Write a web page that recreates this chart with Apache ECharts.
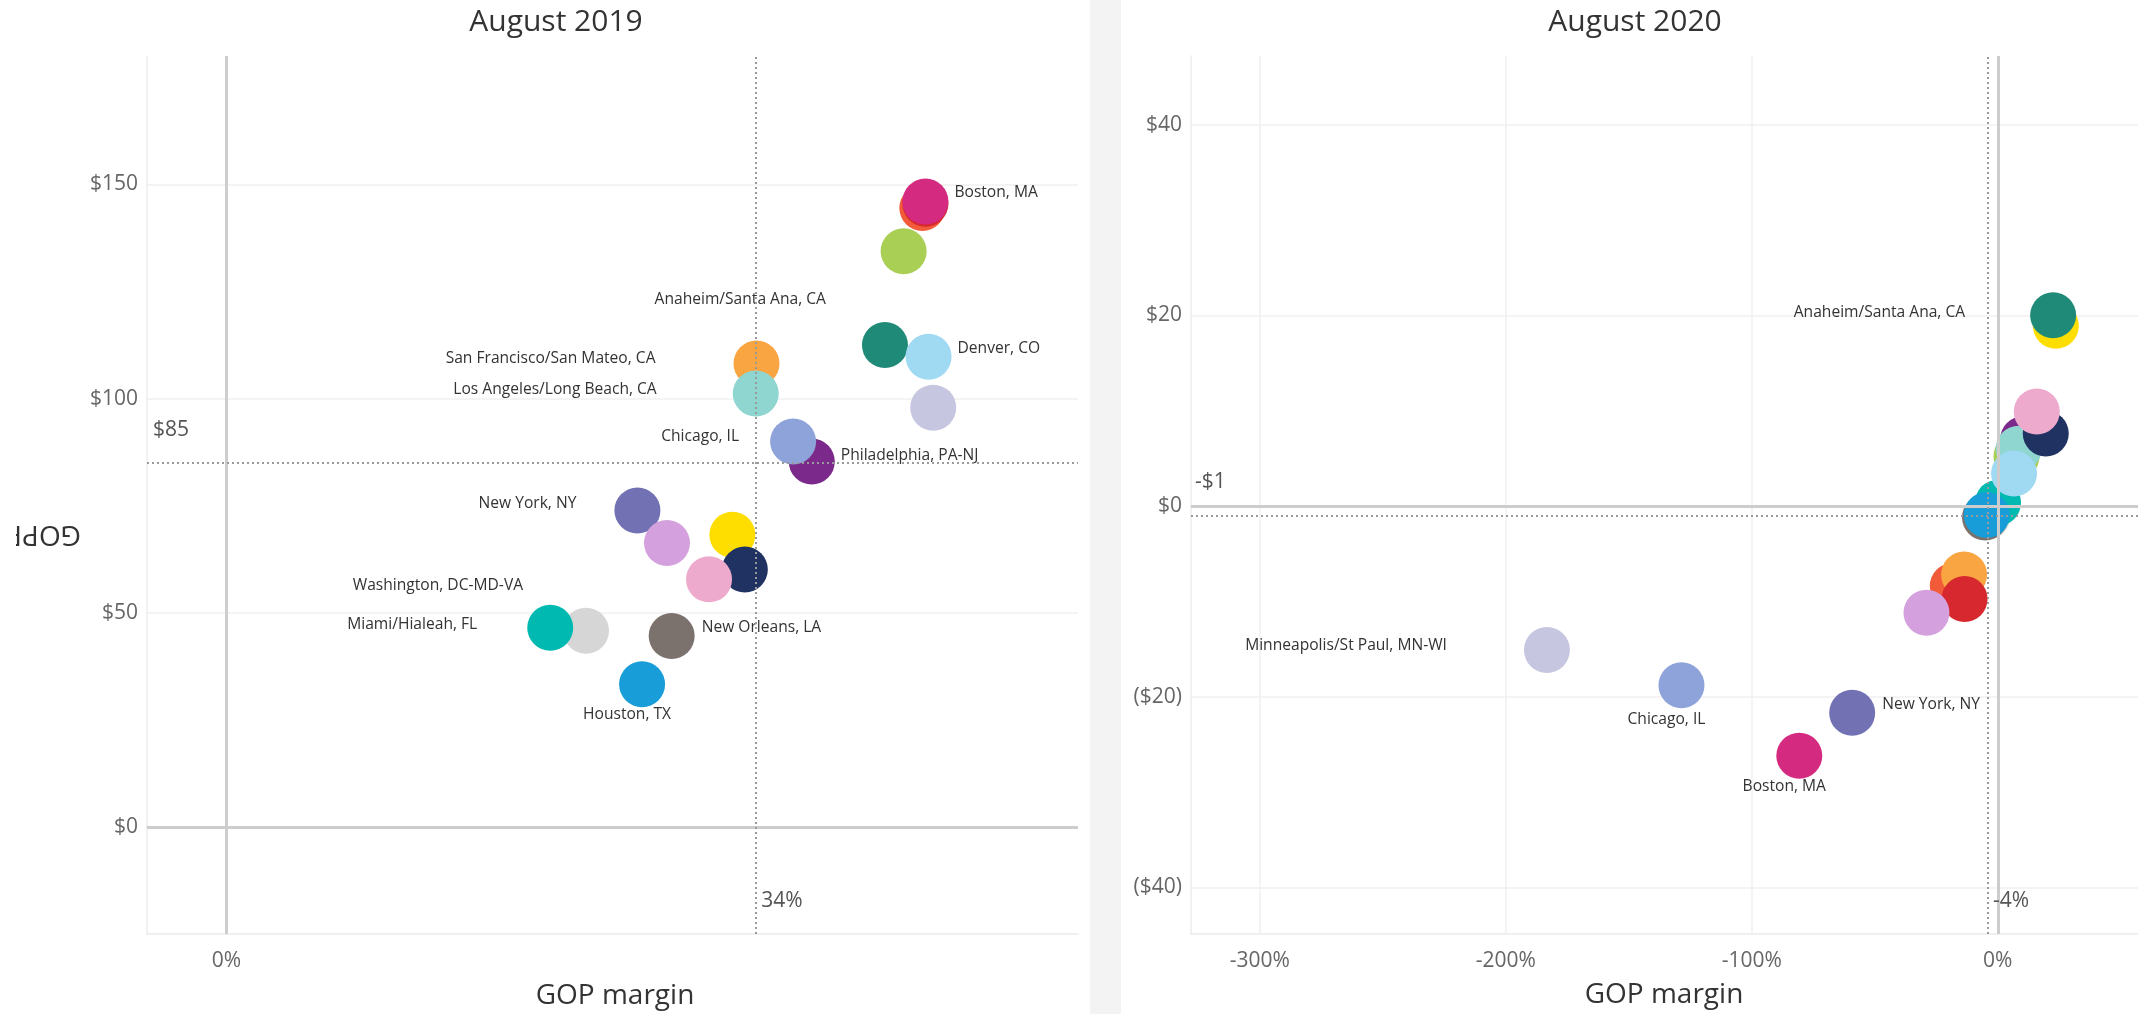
<!DOCTYPE html>
<html><head><meta charset="utf-8">
<script src="https://cdn.jsdelivr.net/npm/echarts@6/dist/echarts.min.js"></script>
<style>html,body{margin:0;padding:0;background:#fff}#c{width:2138px;height:1014px}</style>
</head><body><div id="c"></div><script>
// ---------------- DATA ----------------
const markets = ['', 'Anaheim/Santa Ana, CA', '', 'San Francisco/San Mateo, CA', '', 'Boston, MA',
  'New York, NY', '', 'Philadelphia, PA-NJ', 'Chicago, IL', '', 'Los Angeles/Long Beach, CA',
  '', '', 'Washington, DC-MD-VA', 'Miami/Hialeah, FL', 'Denver, CO', 'New Orleans, LA',
  'Houston, TX', 'Minneapolis/St Paul, MN-WI'];
const colors = ['#fedd00', '#1e8a77', '#f15b3a', '#f9a541', '#d7282f', '#d42a80',
  '#7171b4', '#d4a0de', '#7b2a8b', '#8da3da', '#a9cf54', '#8fd5d0',
  '#1f3262', '#eeaacc', '#d6d6d6', '#00b9b1', '#a0d9f2', '#7b716d',
  '#189dd8', '#c6c6e1'];
// August 2019
const margin2019 = [32.5, 42.3, 44.7, 34.05, 44.9, 44.9, 26.4, 28.3, 37.6, 36.4, 43.5, 34.0,
  33.3, 31.0, 23.1, 20.8, 45.1, 28.6, 26.7, 45.4];
const gop2019 = [68.2, 112.5, 144.5, 108.2, 145.5, 146.0, 73.9, 66.3, 85.3, 90.0, 134.4, 101.2,
  60.1, 57.8, 45.8, 46.5, 109.8, 44.6, 33.3, 97.9];
// August 2020
const margin2020 = [23.6, 22.5, -18.3, -13.7, -13.5, -80.7, -59.2, -29.0, 10.3, -128.6, 7.6, 8.5,
  19.5, 15.85, -4.3, 0.1, 6.6, -5.2, -4.5, -183.3];
const gop2020 = [18.9, 20.0, -8.4, -7.2, -9.75, -26.2, -21.7, -11.2, 7.0, -18.8, 5.2, 6.0,
  7.6, 9.9, -1.1, 0.35, 3.4, -1.2, -0.95, -15.1];
// reference (average) lines
const refMargin2019 = 34, refGop2019 = 85;
const refMargin2020 = -4, refGop2020 = -1;
// tick labels
const xTicks2019 = [0];
const yTicks2019 = [0, 50, 100, 150];
const xTicks2020 = [-300, -200, -100, 0];
const yTicks2020 = [-40, -20, 0, 20, 40];
const panelTitles = ['August 2019', 'August 2020'];
const xTitle = 'GOP margin';
const yTitle = 'GOPPAR';

// ---------------- LAYOUT / STYLE ----------------
const FONT = '"Open Sans", "Noto Sans", sans-serif';
const ext2019 = {xMin: -5.1, xMax: 54.7, yMin: -25, yMax: 180};
const ext2020 = {xMin: -328, xMax: 57, yMin: -44.9, yMax: 47.2};
const labelCfg2019 = {
  'Boston, MA': {position: 'right', distance: 6, offset: [0, -9]},
  'Anaheim/Santa Ana, CA': {position: 'left', distance: 36, offset: [0, -46]},
  'Denver, CO': {position: 'right', distance: 6, offset: [0, -8]},
  'San Francisco/San Mateo, CA': {position: 'left', distance: 78, offset: [0, -5]},
  'Los Angeles/Long Beach, CA': {position: 'left', distance: 76, offset: [0, -4]},
  'Chicago, IL': {position: 'left', distance: 31, offset: [0, -5]},
  'Philadelphia, PA-NJ': {position: 'right', distance: 6, offset: [0, -6]},
  'New York, NY': {position: 'left', distance: 38, offset: [0, -7]},
  'Washington, DC-MD-VA': {position: 'left', distance: 40, offset: [0, -45]},
  'Miami/Hialeah, FL': {position: 'left', distance: 50, offset: [0, -3]},
  'New Orleans, LA': {position: 'right', distance: 7, offset: [0, -8]},
  'Houston, TX': {position: 'bottom', distance: 0, offset: [-15, -1]}
};
const labelCfg2020 = {
  'Anaheim/Santa Ana, CA': {position: 'left', distance: 65, offset: [0, -3]},
  'Minneapolis/St Paul, MN-WI': {position: 'left', distance: 77, offset: [0, -4]},
  'Chicago, IL': {position: 'bottom', distance: 0, offset: [-15, 3]},
  'New York, NY': {position: 'right', distance: 7, offset: [0, -8]},
  'Boston, MA': {position: 'bottom', distance: 0, offset: [-15, 0]}
};

const money = v => v < 0 ? '($' + (-v) + ')' : '$' + v;
const moneySigned = v => v < 0 ? '-$' + (-v) : '$' + v;

function bubbleData(xs, ys, cfg) {
  return markets.map((m, i) => {
    const c = cfg[m];
    return {
      name: m,
      value: [xs[i], ys[i]],
      itemStyle: {color: colors[i], opacity: 1},
      label: c ? Object.assign({show: true, formatter: '{b}', color: '#333', fontSize: 15.6, fontFamily: FONT}, c) : {show: false}
    };
  });
}

function xAxisCfg(idx, ext, ticks) {
  return {
    type: 'value', gridIndex: idx, min: ext.xMin, max: ext.xMax,
    axisLine: {show: true, onZero: false, lineStyle: {color: '#ececec', width: 1.5}},
    axisTick: {show: false, customValues: ticks},
    axisLabel: {customValues: ticks, formatter: v => v + '%', color: '#666', fontSize: 21, fontFamily: FONT, margin: 17},
    splitLine: {show: true, lineStyle: {color: '#f0f0f0', width: 1.5}}
  };
}
function yAxisCfg(idx, ext, ticks) {
  return {
    type: 'value', gridIndex: idx, min: ext.yMin, max: ext.yMax,
    axisLine: {show: true, onZero: false, lineStyle: {color: '#ececec', width: 1.5}},
    axisTick: {show: false, customValues: ticks},
    axisLabel: {customValues: ticks, formatter: money, color: '#666', fontSize: 21, fontFamily: FONT, margin: 9},
    splitLine: {show: true, lineStyle: {color: '#f0f0f0', width: 1.5}}
  };
}

function refLabel(text, d) {
  return {show: true, formatter: text, position: 'right', distance: d, offset: [0, -33],
    color: '#555', fontSize: 21, fontFamily: FONT};
}

const zeroLine = {color: '#cdcdcd', width: 3, type: 'solid'};
const dotLine = {color: '#9a9a9a', width: 2, type: [2, 3]};

function panelSeries(idx, xs, ys, cfg, ext, refX, refY, refYText, refXText) {
  return [
    {
      type: 'scatter', xAxisIndex: idx, yAxisIndex: idx, data: [], z: 1, silent: true,
      markLine: {silent: true, symbol: ['none', 'none'], animation: false, label: {show: false},
        lineStyle: zeroLine, data: [{xAxis: 0}, {yAxis: 0}]}
    },
    {
      type: 'scatter', xAxisIndex: idx, yAxisIndex: idx, z: 2, symbolSize: 46,
      itemStyle: {opacity: 1},
      data: bubbleData(xs, ys, cfg)
    },
    {
      type: 'scatter', xAxisIndex: idx, yAxisIndex: idx, data: [], z: 4, silent: true,
      markLine: {silent: true, symbol: ['none', 'none'], animation: false, label: {show: false},
        lineStyle: dotLine, data: [{xAxis: refX}, {yAxis: refY}]},
      markPoint: {silent: true, animation: false, symbol: 'circle', symbolSize: 2,
        itemStyle: {color: 'rgba(0,0,0,0)'},
        data: [
          {coord: [ext.xMin, refY], label: refLabel(refYText, idx === 0 ? 5 : 3)},
          {coord: [refX, ext.yMin], label: refLabel(refXText, idx === 0 ? 4.5 : 4)}
        ]}
    }
  ];
}

const chart = echarts.init(document.getElementById('c'), null, {renderer: 'canvas'});
chart.setOption({
  backgroundColor: '#ffffff',
  animation: false,
  grid: [
    {left: 147, right: 1060, top: 56, bottom: 80},
    {left: 1191, right: 0, top: 56, bottom: 80}
  ],
  xAxis: [xAxisCfg(0, ext2019, xTicks2019), xAxisCfg(1, ext2020, xTicks2020)],
  yAxis: [yAxisCfg(0, ext2019, yTicks2019), yAxisCfg(1, ext2020, yTicks2020)],
  graphic: [
    {type: 'rect', left: 1090, top: 0, shape: {width: 31, height: 1014}, style: {fill: '#f3f3f3'}, z: -10, silent: true},
    {type: 'text', x: 556, y: 22, style: {text: panelTitles[0], font: '30px ' + FONT, fill: '#333', textAlign: 'center', textVerticalAlign: 'middle'}},
    {type: 'text', x: 1635, y: 22, style: {text: panelTitles[1], font: '30px ' + FONT, fill: '#333', textAlign: 'center', textVerticalAlign: 'middle'}},
    {type: 'text', x: 615, y: 996, style: {text: xTitle, font: '28px ' + FONT, fill: '#333', textAlign: 'center', textVerticalAlign: 'middle'}},
    {type: 'text', x: 1664, y: 995, style: {text: xTitle, font: '28px ' + FONT, fill: '#333', textAlign: 'center', textVerticalAlign: 'middle'}},
    {type: 'text', x: 81, y: 534, rotation: Math.PI, z: 10, style: {text: yTitle, font: '28px ' + FONT, fill: '#333', textAlign: 'left', textVerticalAlign: 'middle'}},
    {type: 'rect', x: 0, y: 480, z: 11, silent: true, shape: {width: 16, height: 110}, style: {fill: '#ffffff'}}
  ],
  series: [
    ...panelSeries(0, margin2019, gop2019, labelCfg2019, ext2019, refMargin2019, refGop2019,
      moneySigned(refGop2019), refMargin2019 + '%'),
    ...panelSeries(1, margin2020, gop2020, labelCfg2020, ext2020, refMargin2020, refGop2020,
      moneySigned(refGop2020), refMargin2020 + '%')
  ]
});
</script></body></html>
